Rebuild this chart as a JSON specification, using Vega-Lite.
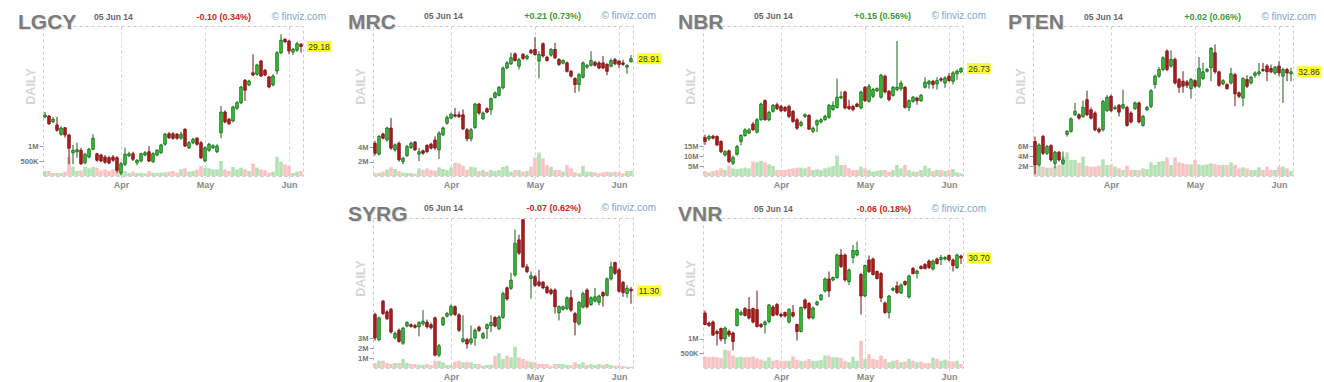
{
"$schema": "https://vega.github.io/schema/vega-lite/v6.json",
"background": "white",
"padding": {"left": 17, "top": 10, "right": 0, "bottom": 0},
"columns": 4,
"spacing": {"row": 42, "column": 70},
"bounds": "flush",
"config": {
  "font": "Liberation Sans",
  "view": {"stroke": "#c9c9c9", "strokeDash": [3, 3]},
  "axis": {"domain": false, "gridColor": "#d2d2d2", "gridDash": [3, 3], "gridWidth": 1, "labelFont": "Liberation Sans", "titleFont": "Liberation Sans"},
  "axisBottom": {"labelFontSize": 9, "labelFontWeight": "bold", "labelColor": "#8a8a8a", "ticks": true, "tickSize": 3, "tickColor": "#c9c9c9", "tickDash": [2, 2], "labelPadding": 1, "labelFlush": false},
  "axisRight": {"labelFontSize": 8, "labelColor": "#555555", "ticks": false, "labelPadding": 5},
  "axisLeft": {"labelFontSize": 7.5, "labelFontWeight": "bold", "labelColor": "#777777", "ticks": true, "tickSize": 4, "tickColor": "#9a9a9a", "labelPadding": 1, "titleFontSize": 12.5, "titleFontWeight": "bold", "titleColor": "#d6d6d6"}
},
"datasets": {
"LGCY": [
{"i":0,"o":26.36,"h":26.56,"l":26.31,"c":26.44,"v":167000},
{"i":1,"o":26.40,"h":26.44,"l":26.04,"c":26.09,"v":167000},
{"i":2,"o":26.17,"h":26.36,"l":26.12,"c":26.27,"v":100000},
{"i":3,"o":26.04,"h":26.36,"l":25.77,"c":25.83,"v":100000},
{"i":4,"o":25.67,"h":25.99,"l":25.61,"c":25.92,"v":100000},
{"i":5,"o":25.93,"h":25.96,"l":25.53,"c":25.64,"v":144000},
{"i":6,"o":25.64,"h":25.69,"l":24.47,"c":25.11,"v":644000},
{"i":7,"o":24.93,"h":25.24,"l":24.47,"c":25.03,"v":311000},
{"i":8,"o":24.97,"h":25.33,"l":24.73,"c":25.05,"v":167000},
{"i":9,"o":25.03,"h":25.13,"l":24.44,"c":24.49,"v":189000},
{"i":10,"o":24.53,"h":24.93,"l":24.47,"c":24.87,"v":300000},
{"i":11,"o":24.76,"h":25.13,"l":24.71,"c":25.07,"v":256000},
{"i":12,"o":25.07,"h":25.67,"l":25.03,"c":25.51,"v":300000},
{"i":13,"o":24.89,"h":24.93,"l":24.57,"c":24.63,"v":278000},
{"i":14,"o":24.84,"h":24.89,"l":24.55,"c":24.60,"v":189000},
{"i":15,"o":24.76,"h":24.84,"l":24.49,"c":24.55,"v":222000},
{"i":16,"o":24.73,"h":24.80,"l":24.47,"c":24.52,"v":167000},
{"i":17,"o":24.76,"h":24.84,"l":24.57,"c":24.63,"v":222000},
{"i":18,"o":24.73,"h":24.80,"l":24.13,"c":24.23,"v":300000},
{"i":19,"o":24.13,"h":24.57,"l":24.04,"c":24.49,"v":222000},
{"i":20,"o":24.47,"h":25.13,"l":24.40,"c":24.87,"v":167000},
{"i":21,"o":24.81,"h":24.97,"l":24.76,"c":24.89,"v":100000},
{"i":22,"o":24.89,"h":24.97,"l":24.60,"c":24.67,"v":144000},
{"i":23,"o":24.53,"h":24.68,"l":24.43,"c":24.63,"v":100000},
{"i":24,"o":24.60,"h":24.93,"l":24.55,"c":24.89,"v":111000},
{"i":25,"o":24.84,"h":25.00,"l":24.79,"c":24.93,"v":89000},
{"i":26,"o":24.97,"h":25.20,"l":24.55,"c":24.60,"v":167000},
{"i":27,"o":24.57,"h":24.95,"l":24.52,"c":24.89,"v":111000},
{"i":28,"o":24.84,"h":25.08,"l":24.79,"c":25.03,"v":100000},
{"i":29,"o":24.93,"h":25.29,"l":24.89,"c":25.24,"v":111000},
{"i":30,"o":25.27,"h":25.73,"l":25.21,"c":25.67,"v":122000},
{"i":31,"o":25.69,"h":25.76,"l":25.48,"c":25.53,"v":144000},
{"i":32,"o":25.69,"h":25.75,"l":25.45,"c":25.51,"v":167000},
{"i":33,"o":25.67,"h":25.72,"l":25.45,"c":25.51,"v":111000},
{"i":34,"o":25.51,"h":25.77,"l":25.45,"c":25.67,"v":222000},
{"i":35,"o":25.87,"h":25.91,"l":25.16,"c":25.20,"v":256000},
{"i":36,"o":25.13,"h":25.40,"l":25.08,"c":25.33,"v":144000},
{"i":37,"o":25.33,"h":25.53,"l":25.27,"c":25.47,"v":167000},
{"i":38,"o":25.51,"h":25.56,"l":25.21,"c":25.27,"v":211000},
{"i":39,"o":25.33,"h":25.40,"l":24.68,"c":24.73,"v":333000},
{"i":40,"o":24.60,"h":25.19,"l":24.55,"c":25.13,"v":278000},
{"i":41,"o":25.03,"h":25.33,"l":24.97,"c":25.27,"v":256000},
{"i":42,"o":25.13,"h":25.27,"l":25.08,"c":25.21,"v":222000},
{"i":43,"o":24.97,"h":25.27,"l":24.92,"c":25.20,"v":222000},
{"i":44,"o":25.73,"h":26.80,"l":25.51,"c":26.56,"v":500000},
{"i":45,"o":26.56,"h":26.63,"l":26.11,"c":26.16,"v":222000},
{"i":46,"o":26.27,"h":26.33,"l":26.04,"c":26.09,"v":167000},
{"i":47,"o":26.20,"h":26.81,"l":26.15,"c":26.76,"v":300000},
{"i":48,"o":26.71,"h":27.00,"l":26.65,"c":26.93,"v":222000},
{"i":49,"o":26.93,"h":27.61,"l":26.88,"c":27.56,"v":278000},
{"i":50,"o":27.83,"h":27.88,"l":27.00,"c":27.43,"v":222000},
{"i":51,"o":27.64,"h":27.85,"l":27.59,"c":27.80,"v":167000},
{"i":52,"o":28.13,"h":28.87,"l":27.99,"c":28.04,"v":411000},
{"i":53,"o":28.07,"h":28.49,"l":28.01,"c":28.44,"v":278000},
{"i":54,"o":28.60,"h":28.65,"l":27.95,"c":28.00,"v":222000},
{"i":55,"o":28.23,"h":28.28,"l":27.99,"c":28.04,"v":189000},
{"i":56,"o":27.96,"h":28.01,"l":27.51,"c":27.56,"v":111000},
{"i":57,"o":27.64,"h":28.07,"l":27.59,"c":28.00,"v":144000},
{"i":58,"o":28.20,"h":29.00,"l":28.07,"c":28.93,"v":644000},
{"i":59,"o":28.93,"h":29.67,"l":28.87,"c":29.43,"v":478000},
{"i":60,"o":29.47,"h":29.51,"l":29.32,"c":29.37,"v":389000},
{"i":61,"o":29.40,"h":29.45,"l":28.87,"c":29.00,"v":333000},
{"i":62,"o":28.96,"h":29.13,"l":28.84,"c":29.07,"v":100000},
{"i":63,"o":29.03,"h":29.37,"l":28.97,"c":29.29,"v":144000},
{"i":64,"o":29.27,"h":29.32,"l":28.93,"c":29.18,"v":167000}
],
"MRC": [
{"i":0,"o":26.09,"h":26.17,"l":25.68,"c":25.76,"v":370000},
{"i":1,"o":25.73,"h":26.37,"l":25.68,"c":26.32,"v":470000},
{"i":2,"o":26.40,"h":26.44,"l":26.22,"c":26.26,"v":600000},
{"i":3,"o":26.20,"h":26.64,"l":26.15,"c":26.60,"v":930000},
{"i":4,"o":26.60,"h":26.93,"l":25.87,"c":25.93,"v":1210000},
{"i":5,"o":25.87,"h":26.09,"l":25.81,"c":26.04,"v":980000},
{"i":6,"o":26.09,"h":26.15,"l":25.48,"c":25.54,"v":700000},
{"i":7,"o":25.48,"h":25.64,"l":25.39,"c":25.59,"v":510000},
{"i":8,"o":25.68,"h":26.04,"l":25.64,"c":25.98,"v":420000},
{"i":9,"o":25.95,"h":26.15,"l":25.90,"c":26.09,"v":420000},
{"i":10,"o":26.13,"h":26.17,"l":25.84,"c":25.87,"v":330000},
{"i":11,"o":25.73,"h":25.93,"l":25.50,"c":25.81,"v":1070000},
{"i":12,"o":25.84,"h":25.88,"l":25.71,"c":25.76,"v":840000},
{"i":13,"o":26.02,"h":26.06,"l":25.77,"c":25.81,"v":1070000},
{"i":14,"o":26.06,"h":26.11,"l":25.88,"c":25.93,"v":840000},
{"i":15,"o":26.20,"h":26.32,"l":25.88,"c":25.93,"v":740000},
{"i":16,"o":25.87,"h":26.49,"l":25.57,"c":26.43,"v":1210000},
{"i":17,"o":26.37,"h":26.65,"l":26.33,"c":26.60,"v":980000},
{"i":18,"o":26.76,"h":27.02,"l":26.71,"c":26.95,"v":840000},
{"i":19,"o":26.93,"h":27.11,"l":26.89,"c":27.06,"v":1210000},
{"i":20,"o":27.04,"h":27.27,"l":26.95,"c":26.99,"v":1860000},
{"i":21,"o":27.04,"h":27.15,"l":26.93,"c":26.98,"v":1770000},
{"i":22,"o":27.04,"h":27.22,"l":26.53,"c":26.57,"v":1440000},
{"i":23,"o":26.54,"h":26.60,"l":26.15,"c":26.24,"v":880000},
{"i":24,"o":26.24,"h":26.60,"l":26.15,"c":26.54,"v":1300000},
{"i":25,"o":26.62,"h":27.44,"l":26.57,"c":27.40,"v":1210000},
{"i":26,"o":27.40,"h":27.44,"l":27.04,"c":27.10,"v":700000},
{"i":27,"o":26.91,"h":27.15,"l":26.86,"c":27.10,"v":840000},
{"i":28,"o":27.24,"h":27.29,"l":27.09,"c":27.13,"v":600000},
{"i":29,"o":27.21,"h":27.62,"l":27.04,"c":27.58,"v":840000},
{"i":30,"o":27.62,"h":27.82,"l":27.58,"c":27.77,"v":700000},
{"i":31,"o":27.69,"h":28.00,"l":27.65,"c":27.96,"v":840000},
{"i":32,"o":27.94,"h":28.65,"l":27.89,"c":28.60,"v":1260000},
{"i":33,"o":28.60,"h":28.83,"l":28.56,"c":28.77,"v":1440000},
{"i":34,"o":28.74,"h":29.11,"l":28.70,"c":28.94,"v":600000},
{"i":35,"o":29.07,"h":29.12,"l":28.81,"c":28.85,"v":840000},
{"i":36,"o":28.66,"h":28.94,"l":28.55,"c":28.88,"v":840000},
{"i":37,"o":29.05,"h":29.10,"l":28.87,"c":28.92,"v":600000},
{"i":38,"o":28.92,"h":29.05,"l":28.87,"c":29.00,"v":700000},
{"i":39,"o":29.19,"h":29.23,"l":29.06,"c":29.11,"v":1300000},
{"i":40,"o":29.22,"h":29.63,"l":29.01,"c":29.05,"v":2600000},
{"i":41,"o":28.83,"h":29.16,"l":28.25,"c":29.05,"v":3260000},
{"i":42,"o":29.41,"h":29.45,"l":28.95,"c":29.00,"v":2470000},
{"i":43,"o":28.96,"h":29.01,"l":28.81,"c":28.85,"v":1530000},
{"i":44,"o":29.03,"h":29.26,"l":28.98,"c":29.22,"v":1300000},
{"i":45,"o":29.22,"h":29.44,"l":28.90,"c":28.94,"v":840000},
{"i":46,"o":28.88,"h":28.93,"l":28.67,"c":28.72,"v":840000},
{"i":47,"o":28.76,"h":28.89,"l":28.72,"c":28.85,"v":600000},
{"i":48,"o":28.77,"h":28.82,"l":28.45,"c":28.49,"v":1530000},
{"i":49,"o":28.49,"h":28.54,"l":28.28,"c":28.33,"v":1070000},
{"i":50,"o":28.25,"h":28.29,"l":27.77,"c":28.05,"v":510000},
{"i":51,"o":28.05,"h":28.43,"l":27.82,"c":28.38,"v":370000},
{"i":52,"o":28.29,"h":28.82,"l":28.25,"c":28.77,"v":1400000},
{"i":53,"o":28.63,"h":28.74,"l":28.58,"c":28.68,"v":600000},
{"i":54,"o":28.69,"h":29.16,"l":28.65,"c":28.85,"v":600000},
{"i":55,"o":28.79,"h":28.84,"l":28.65,"c":28.69,"v":510000},
{"i":56,"o":28.77,"h":28.83,"l":28.56,"c":28.60,"v":370000},
{"i":57,"o":28.77,"h":29.00,"l":28.56,"c":28.60,"v":510000},
{"i":58,"o":28.72,"h":28.76,"l":28.36,"c":28.49,"v":600000},
{"i":59,"o":28.66,"h":28.92,"l":28.62,"c":28.85,"v":510000},
{"i":60,"o":28.88,"h":28.94,"l":28.69,"c":28.74,"v":600000},
{"i":61,"o":28.83,"h":28.87,"l":28.60,"c":28.72,"v":510000},
{"i":62,"o":28.77,"h":28.87,"l":28.67,"c":28.72,"v":370000},
{"i":63,"o":28.63,"h":28.73,"l":28.41,"c":28.68,"v":700000},
{"i":64,"o":28.81,"h":29.03,"l":28.78,"c":28.91,"v":700000}
],
"NBR": [
{"i":0,"o":23.05,"h":23.20,"l":22.66,"c":22.84,"v":2540000},
{"i":1,"o":22.98,"h":23.20,"l":22.88,"c":23.11,"v":1860000},
{"i":2,"o":23.12,"h":23.20,"l":22.95,"c":23.02,"v":2540000},
{"i":3,"o":23.11,"h":23.16,"l":22.59,"c":22.66,"v":3050000},
{"i":4,"o":22.84,"h":22.91,"l":22.21,"c":22.30,"v":3900000},
{"i":5,"o":22.12,"h":22.38,"l":22.04,"c":22.30,"v":3050000},
{"i":6,"o":22.34,"h":22.41,"l":21.68,"c":21.77,"v":5250000},
{"i":7,"o":21.68,"h":22.09,"l":21.59,"c":21.98,"v":3900000},
{"i":8,"o":22.16,"h":22.66,"l":22.09,"c":22.57,"v":3560000},
{"i":9,"o":22.84,"h":23.23,"l":22.63,"c":23.16,"v":3900000},
{"i":10,"o":23.16,"h":23.55,"l":23.09,"c":23.46,"v":4240000},
{"i":11,"o":23.29,"h":23.55,"l":23.23,"c":23.46,"v":3900000},
{"i":12,"o":23.77,"h":23.88,"l":23.41,"c":23.46,"v":7290000},
{"i":13,"o":23.34,"h":24.09,"l":23.27,"c":24.00,"v":6950000},
{"i":14,"o":24.00,"h":24.91,"l":23.95,"c":24.84,"v":7630000},
{"i":15,"o":25.02,"h":25.09,"l":23.95,"c":24.00,"v":6950000},
{"i":16,"o":24.00,"h":24.48,"l":23.91,"c":24.39,"v":5930000},
{"i":17,"o":24.45,"h":24.84,"l":24.38,"c":24.77,"v":5080000},
{"i":18,"o":24.80,"h":24.91,"l":24.52,"c":24.59,"v":3050000},
{"i":19,"o":24.71,"h":24.79,"l":24.41,"c":24.48,"v":3050000},
{"i":20,"o":24.66,"h":24.73,"l":24.41,"c":24.48,"v":3050000},
{"i":21,"o":24.71,"h":24.80,"l":24.09,"c":24.18,"v":3560000},
{"i":22,"o":24.45,"h":24.52,"l":23.84,"c":23.91,"v":3900000},
{"i":23,"o":24.00,"h":24.09,"l":23.46,"c":23.55,"v":4240000},
{"i":24,"o":23.70,"h":23.95,"l":23.63,"c":23.86,"v":4240000},
{"i":25,"o":24.18,"h":24.34,"l":24.09,"c":24.27,"v":3900000},
{"i":26,"o":24.23,"h":24.30,"l":23.45,"c":23.50,"v":4750000},
{"i":27,"o":23.38,"h":23.63,"l":23.29,"c":23.55,"v":3050000},
{"i":28,"o":23.73,"h":24.02,"l":23.34,"c":23.95,"v":3390000},
{"i":29,"o":23.88,"h":24.09,"l":23.80,"c":24.00,"v":3050000},
{"i":30,"o":24.00,"h":24.27,"l":23.95,"c":24.18,"v":3900000},
{"i":31,"o":24.13,"h":24.84,"l":24.05,"c":24.77,"v":4410000},
{"i":32,"o":24.54,"h":24.98,"l":24.48,"c":24.77,"v":5080000},
{"i":33,"o":24.66,"h":26.20,"l":24.59,"c":25.20,"v":10340000},
{"i":34,"o":25.16,"h":25.52,"l":25.09,"c":25.23,"v":5590000},
{"i":35,"o":25.48,"h":25.55,"l":24.55,"c":24.63,"v":5590000},
{"i":36,"o":24.71,"h":25.07,"l":24.52,"c":24.59,"v":3900000},
{"i":37,"o":24.71,"h":24.80,"l":24.45,"c":24.54,"v":3050000},
{"i":38,"o":24.84,"h":24.91,"l":24.66,"c":24.71,"v":3050000},
{"i":39,"o":24.63,"h":25.55,"l":24.55,"c":25.48,"v":4750000},
{"i":40,"o":25.73,"h":25.80,"l":24.95,"c":25.02,"v":3900000},
{"i":41,"o":24.98,"h":25.91,"l":24.91,"c":25.79,"v":3050000},
{"i":42,"o":25.25,"h":25.70,"l":25.16,"c":25.61,"v":2200000},
{"i":43,"o":25.55,"h":25.73,"l":25.48,"c":25.66,"v":2540000},
{"i":44,"o":25.20,"h":26.45,"l":25.13,"c":26.38,"v":3050000},
{"i":45,"o":26.32,"h":26.41,"l":25.41,"c":25.48,"v":3050000},
{"i":46,"o":25.52,"h":25.59,"l":24.98,"c":25.07,"v":2200000},
{"i":47,"o":25.30,"h":25.80,"l":25.23,"c":25.73,"v":3050000},
{"i":48,"o":25.61,"h":28.20,"l":25.52,"c":25.73,"v":5590000},
{"i":49,"o":25.66,"h":26.09,"l":25.55,"c":25.96,"v":3900000},
{"i":50,"o":25.73,"h":25.80,"l":24.59,"c":24.66,"v":5590000},
{"i":51,"o":24.66,"h":25.09,"l":24.45,"c":25.02,"v":3050000},
{"i":52,"o":24.98,"h":25.27,"l":24.91,"c":25.20,"v":2200000},
{"i":53,"o":25.16,"h":25.23,"l":24.80,"c":25.02,"v":2200000},
{"i":54,"o":25.02,"h":25.38,"l":24.95,"c":25.30,"v":3050000},
{"i":55,"o":25.73,"h":26.27,"l":25.66,"c":26.00,"v":5250000},
{"i":56,"o":25.91,"h":26.13,"l":25.66,"c":26.05,"v":3900000},
{"i":57,"o":26.05,"h":26.13,"l":25.66,"c":25.88,"v":2540000},
{"i":58,"o":25.91,"h":26.27,"l":25.61,"c":26.09,"v":3050000},
{"i":59,"o":26.18,"h":26.27,"l":26.02,"c":26.11,"v":3050000},
{"i":60,"o":25.96,"h":26.32,"l":25.70,"c":26.23,"v":2540000},
{"i":61,"o":26.32,"h":26.50,"l":26.02,"c":26.09,"v":3050000},
{"i":62,"o":26.05,"h":26.59,"l":25.88,"c":26.50,"v":3560000},
{"i":63,"o":26.45,"h":26.68,"l":26.14,"c":26.59,"v":1860000},
{"i":64,"o":26.55,"h":26.80,"l":26.48,"c":26.73,"v":1360000}
],
"PTEN": [
{"i":0,"o":29.61,"h":29.84,"l":28.08,"c":28.52,"v":2200000},
{"i":1,"o":28.52,"h":29.53,"l":28.45,"c":29.45,"v":2070000},
{"i":2,"o":29.84,"h":29.92,"l":28.98,"c":29.06,"v":1870000},
{"i":3,"o":29.06,"h":29.45,"l":28.98,"c":29.38,"v":1670000},
{"i":4,"o":29.42,"h":29.48,"l":28.67,"c":28.75,"v":1670000},
{"i":5,"o":28.59,"h":29.17,"l":28.36,"c":29.11,"v":1870000},
{"i":6,"o":29.11,"h":29.17,"l":28.67,"c":28.75,"v":2200000},
{"i":7,"o":28.59,"h":29.14,"l":28.52,"c":28.75,"v":3870000},
{"i":8,"o":29.95,"h":30.14,"l":29.84,"c":30.08,"v":4730000},
{"i":9,"o":30.08,"h":30.73,"l":30.02,"c":30.67,"v":3200000},
{"i":10,"o":30.86,"h":31.41,"l":30.80,"c":31.02,"v":3200000},
{"i":11,"o":30.86,"h":30.92,"l":30.63,"c":30.70,"v":2670000},
{"i":12,"o":30.78,"h":31.52,"l":30.70,"c":31.20,"v":3870000},
{"i":13,"o":31.56,"h":31.98,"l":30.80,"c":30.86,"v":2070000},
{"i":14,"o":31.09,"h":31.20,"l":30.63,"c":30.70,"v":1870000},
{"i":15,"o":30.94,"h":31.02,"l":30.08,"c":30.16,"v":1870000},
{"i":16,"o":30.19,"h":30.27,"l":29.98,"c":30.08,"v":2070000},
{"i":17,"o":30.16,"h":31.55,"l":30.08,"c":31.48,"v":3330000},
{"i":18,"o":31.05,"h":31.77,"l":30.98,"c":31.67,"v":2200000},
{"i":19,"o":31.72,"h":31.80,"l":30.98,"c":31.05,"v":2330000},
{"i":20,"o":31.14,"h":31.30,"l":31.08,"c":31.20,"v":1870000},
{"i":21,"o":31.30,"h":31.36,"l":30.78,"c":30.98,"v":1530000},
{"i":22,"o":31.17,"h":32.03,"l":31.11,"c":31.33,"v":1200000},
{"i":23,"o":31.20,"h":31.27,"l":30.30,"c":30.36,"v":2070000},
{"i":24,"o":30.94,"h":31.02,"l":30.45,"c":30.52,"v":1200000},
{"i":25,"o":31.14,"h":31.48,"l":31.08,"c":31.41,"v":1200000},
{"i":26,"o":31.41,"h":31.48,"l":30.45,"c":30.52,"v":1200000},
{"i":27,"o":30.36,"h":30.86,"l":30.30,"c":30.78,"v":1530000},
{"i":28,"o":31.09,"h":31.27,"l":31.02,"c":31.20,"v":1400000},
{"i":29,"o":31.25,"h":32.05,"l":31.17,"c":31.98,"v":2730000},
{"i":30,"o":32.27,"h":32.73,"l":32.08,"c":32.66,"v":2200000},
{"i":31,"o":32.66,"h":33.08,"l":32.58,"c":32.97,"v":2870000},
{"i":32,"o":32.97,"h":33.59,"l":32.89,"c":33.52,"v":3000000},
{"i":33,"o":33.83,"h":33.91,"l":32.89,"c":32.97,"v":3730000},
{"i":34,"o":33.13,"h":33.86,"l":33.05,"c":33.44,"v":2200000},
{"i":35,"o":33.44,"h":33.52,"l":32.27,"c":32.34,"v":3730000},
{"i":36,"o":32.50,"h":32.58,"l":31.88,"c":32.14,"v":2730000},
{"i":37,"o":32.42,"h":32.89,"l":31.88,"c":32.19,"v":2530000},
{"i":38,"o":32.39,"h":32.48,"l":32.11,"c":32.23,"v":2330000},
{"i":39,"o":32.08,"h":32.58,"l":31.61,"c":32.50,"v":2330000},
{"i":40,"o":32.45,"h":32.52,"l":32.11,"c":32.19,"v":3200000},
{"i":41,"o":32.19,"h":33.55,"l":32.11,"c":33.02,"v":2330000},
{"i":42,"o":32.55,"h":33.28,"l":32.48,"c":32.86,"v":2200000},
{"i":43,"o":32.89,"h":33.05,"l":32.83,"c":32.97,"v":2330000},
{"i":44,"o":33.05,"h":34.02,"l":32.42,"c":33.95,"v":2530000},
{"i":45,"o":33.75,"h":34.14,"l":32.77,"c":32.86,"v":2400000},
{"i":46,"o":32.86,"h":32.92,"l":32.17,"c":32.23,"v":2200000},
{"i":47,"o":32.30,"h":32.52,"l":32.23,"c":32.45,"v":2200000},
{"i":48,"o":32.27,"h":32.33,"l":32.02,"c":32.08,"v":2200000},
{"i":49,"o":32.34,"h":33.05,"l":32.27,"c":32.77,"v":2730000},
{"i":50,"o":32.73,"h":32.81,"l":31.25,"c":31.83,"v":2200000},
{"i":51,"o":31.88,"h":31.95,"l":31.64,"c":31.72,"v":1530000},
{"i":52,"o":31.64,"h":32.61,"l":31.25,"c":32.55,"v":1730000},
{"i":53,"o":32.50,"h":32.70,"l":32.11,"c":32.19,"v":1530000},
{"i":54,"o":32.34,"h":32.67,"l":32.27,"c":32.61,"v":1200000},
{"i":55,"o":32.70,"h":32.89,"l":32.58,"c":32.81,"v":1200000},
{"i":56,"o":32.77,"h":33.27,"l":32.66,"c":32.86,"v":1730000},
{"i":57,"o":32.97,"h":33.28,"l":32.86,"c":32.92,"v":1200000},
{"i":58,"o":33.13,"h":33.23,"l":32.42,"c":32.86,"v":1870000},
{"i":59,"o":33.02,"h":33.20,"l":32.80,"c":32.86,"v":1200000},
{"i":60,"o":32.81,"h":33.14,"l":32.73,"c":33.08,"v":1200000},
{"i":61,"o":33.13,"h":33.36,"l":32.66,"c":32.81,"v":1870000},
{"i":62,"o":32.66,"h":33.05,"l":31.41,"c":32.97,"v":1870000},
{"i":63,"o":32.97,"h":33.05,"l":32.42,"c":32.81,"v":1530000},
{"i":64,"o":32.77,"h":33.05,"l":32.42,"c":32.86,"v":1000000}
],
"SYRG": [
{"i":0,"o":10.75,"h":10.79,"l":10.14,"c":10.20,"v":500000},
{"i":1,"o":10.16,"h":10.70,"l":10.12,"c":10.67,"v":730000},
{"i":2,"o":11.06,"h":11.09,"l":10.74,"c":10.77,"v":730000},
{"i":3,"o":10.81,"h":10.85,"l":10.62,"c":10.65,"v":500000},
{"i":4,"o":10.87,"h":10.90,"l":10.30,"c":10.34,"v":400000},
{"i":5,"o":10.20,"h":10.35,"l":10.17,"c":10.31,"v":500000},
{"i":6,"o":10.38,"h":10.42,"l":10.09,"c":10.12,"v":500000},
{"i":7,"o":10.08,"h":10.46,"l":10.04,"c":10.43,"v":900000},
{"i":8,"o":10.48,"h":10.59,"l":10.45,"c":10.56,"v":500000},
{"i":9,"o":10.51,"h":10.54,"l":10.44,"c":10.47,"v":400000},
{"i":10,"o":10.49,"h":10.53,"l":10.42,"c":10.45,"v":400000},
{"i":11,"o":10.46,"h":10.59,"l":10.24,"c":10.56,"v":330000},
{"i":12,"o":10.53,"h":10.85,"l":10.49,"c":10.59,"v":300000},
{"i":13,"o":10.57,"h":10.63,"l":10.42,"c":10.46,"v":400000},
{"i":14,"o":10.51,"h":10.56,"l":10.40,"c":10.44,"v":300000},
{"i":15,"o":10.67,"h":10.70,"l":9.77,"c":9.80,"v":730000},
{"i":16,"o":9.80,"h":10.06,"l":9.75,"c":10.02,"v":730000},
{"i":17,"o":10.51,"h":10.70,"l":10.48,"c":10.67,"v":570000},
{"i":18,"o":10.71,"h":10.81,"l":10.68,"c":10.77,"v":300000},
{"i":19,"o":10.75,"h":10.98,"l":10.71,"c":10.94,"v":300000},
{"i":20,"o":10.93,"h":10.96,"l":10.71,"c":10.75,"v":630000},
{"i":21,"o":10.74,"h":10.78,"l":10.34,"c":10.38,"v":730000},
{"i":22,"o":10.12,"h":10.73,"l":10.09,"c":10.18,"v":570000},
{"i":23,"o":10.16,"h":10.20,"l":9.95,"c":10.06,"v":630000},
{"i":24,"o":10.09,"h":10.49,"l":10.04,"c":10.18,"v":570000},
{"i":25,"o":10.20,"h":10.42,"l":10.02,"c":10.38,"v":400000},
{"i":26,"o":10.45,"h":10.49,"l":10.34,"c":10.38,"v":400000},
{"i":27,"o":10.20,"h":10.34,"l":10.18,"c":10.30,"v":230000},
{"i":28,"o":10.42,"h":10.54,"l":10.18,"c":10.51,"v":300000},
{"i":29,"o":10.49,"h":10.73,"l":10.34,"c":10.56,"v":330000},
{"i":30,"o":10.68,"h":10.71,"l":10.45,"c":10.48,"v":1230000},
{"i":31,"o":10.42,"h":10.73,"l":10.38,"c":10.69,"v":1470000},
{"i":32,"o":10.68,"h":11.28,"l":10.65,"c":11.24,"v":900000},
{"i":33,"o":11.37,"h":11.40,"l":11.07,"c":11.11,"v":1230000},
{"i":34,"o":11.36,"h":11.72,"l":11.32,"c":11.55,"v":1070000},
{"i":35,"o":11.67,"h":12.73,"l":11.63,"c":12.41,"v":2130000},
{"i":36,"o":12.49,"h":12.61,"l":12.14,"c":12.18,"v":1070000},
{"i":37,"o":12.96,"h":12.97,"l":11.83,"c":11.86,"v":900000},
{"i":38,"o":11.86,"h":11.92,"l":11.71,"c":11.75,"v":730000},
{"i":39,"o":11.59,"h":11.75,"l":11.12,"c":11.65,"v":630000},
{"i":40,"o":11.63,"h":11.67,"l":11.39,"c":11.43,"v":570000},
{"i":41,"o":11.51,"h":11.79,"l":11.39,"c":11.43,"v":400000},
{"i":42,"o":11.50,"h":11.53,"l":11.34,"c":11.37,"v":400000},
{"i":43,"o":11.39,"h":11.43,"l":11.23,"c":11.26,"v":400000},
{"i":44,"o":11.32,"h":11.36,"l":11.20,"c":11.24,"v":230000},
{"i":45,"o":11.32,"h":11.36,"l":10.77,"c":10.93,"v":400000},
{"i":46,"o":10.79,"h":10.96,"l":10.61,"c":10.93,"v":400000},
{"i":47,"o":10.87,"h":10.96,"l":10.84,"c":10.93,"v":400000},
{"i":48,"o":10.89,"h":11.17,"l":10.85,"c":11.14,"v":330000},
{"i":49,"o":11.14,"h":11.32,"l":10.81,"c":10.85,"v":300000},
{"i":50,"o":10.77,"h":10.81,"l":10.26,"c":10.57,"v":570000},
{"i":51,"o":10.53,"h":11.06,"l":10.49,"c":11.03,"v":400000},
{"i":52,"o":10.92,"h":11.28,"l":10.89,"c":11.24,"v":570000},
{"i":53,"o":11.32,"h":11.36,"l":10.89,"c":10.93,"v":300000},
{"i":54,"o":10.98,"h":11.17,"l":10.95,"c":11.14,"v":400000},
{"i":55,"o":11.06,"h":11.37,"l":11.03,"c":11.16,"v":300000},
{"i":56,"o":11.03,"h":11.21,"l":10.96,"c":11.18,"v":400000},
{"i":57,"o":11.26,"h":11.29,"l":10.93,"c":11.18,"v":300000},
{"i":58,"o":11.20,"h":11.61,"l":11.17,"c":11.58,"v":400000},
{"i":59,"o":11.58,"h":11.98,"l":11.54,"c":11.86,"v":300000},
{"i":60,"o":11.96,"h":11.98,"l":11.67,"c":11.71,"v":230000},
{"i":61,"o":11.79,"h":11.83,"l":11.26,"c":11.29,"v":230000},
{"i":62,"o":11.50,"h":11.53,"l":11.16,"c":11.26,"v":170000},
{"i":63,"o":11.24,"h":11.43,"l":11.14,"c":11.36,"v":130000},
{"i":64,"o":11.34,"h":11.39,"l":11.00,"c":11.30,"v":100000}
],
"VNR": [
{"i":0,"o":29.60,"h":29.65,"l":29.35,"c":29.37,"v":400000},
{"i":1,"o":29.40,"h":29.43,"l":29.32,"c":29.35,"v":370000},
{"i":2,"o":29.42,"h":29.45,"l":29.14,"c":29.16,"v":390000},
{"i":3,"o":29.23,"h":29.27,"l":28.95,"c":29.19,"v":370000},
{"i":4,"o":29.29,"h":29.31,"l":29.03,"c":29.08,"v":340000},
{"i":5,"o":29.08,"h":29.33,"l":28.98,"c":29.30,"v":630000},
{"i":6,"o":29.23,"h":29.27,"l":29.12,"c":29.16,"v":600000},
{"i":7,"o":29.20,"h":29.23,"l":28.85,"c":29.03,"v":430000},
{"i":8,"o":29.35,"h":29.70,"l":29.33,"c":29.67,"v":370000},
{"i":9,"o":29.57,"h":29.65,"l":29.54,"c":29.61,"v":390000},
{"i":10,"o":29.69,"h":29.72,"l":29.53,"c":29.55,"v":370000},
{"i":11,"o":29.67,"h":29.92,"l":29.47,"c":29.50,"v":370000},
{"i":12,"o":29.69,"h":29.71,"l":29.39,"c":29.42,"v":400000},
{"i":13,"o":29.67,"h":30.05,"l":29.31,"c":29.33,"v":330000},
{"i":14,"o":29.37,"h":29.40,"l":29.30,"c":29.33,"v":290000},
{"i":15,"o":29.37,"h":29.45,"l":29.19,"c":29.42,"v":250000},
{"i":16,"o":29.43,"h":29.78,"l":29.39,"c":29.76,"v":370000},
{"i":17,"o":29.72,"h":29.76,"l":29.53,"c":29.55,"v":250000},
{"i":18,"o":29.77,"h":29.80,"l":29.54,"c":29.57,"v":280000},
{"i":19,"o":29.57,"h":29.61,"l":29.51,"c":29.54,"v":250000},
{"i":20,"o":29.61,"h":29.63,"l":29.51,"c":29.54,"v":250000},
{"i":21,"o":29.42,"h":29.70,"l":29.39,"c":29.67,"v":250000},
{"i":22,"o":29.61,"h":29.76,"l":29.51,"c":29.54,"v":400000},
{"i":23,"o":29.37,"h":29.39,"l":29.05,"c":29.23,"v":280000},
{"i":24,"o":29.23,"h":29.73,"l":29.21,"c":29.71,"v":250000},
{"i":25,"o":29.86,"h":29.89,"l":29.67,"c":29.70,"v":250000},
{"i":26,"o":29.79,"h":29.82,"l":29.47,"c":29.50,"v":310000},
{"i":27,"o":29.50,"h":29.73,"l":29.47,"c":29.70,"v":250000},
{"i":28,"o":29.77,"h":29.85,"l":29.74,"c":29.82,"v":250000},
{"i":29,"o":29.87,"h":29.98,"l":29.84,"c":29.96,"v":280000},
{"i":30,"o":30.04,"h":30.31,"l":30.01,"c":30.28,"v":430000},
{"i":31,"o":30.28,"h":30.43,"l":29.92,"c":30.04,"v":430000},
{"i":32,"o":30.26,"h":30.33,"l":30.23,"c":30.31,"v":370000},
{"i":33,"o":30.31,"h":30.79,"l":30.28,"c":30.76,"v":370000},
{"i":34,"o":30.76,"h":30.88,"l":30.50,"c":30.53,"v":340000},
{"i":35,"o":30.76,"h":30.79,"l":30.23,"c":30.26,"v":250000},
{"i":36,"o":30.23,"h":30.49,"l":30.16,"c":30.46,"v":200000},
{"i":37,"o":30.71,"h":30.96,"l":30.59,"c":30.85,"v":390000},
{"i":38,"o":30.76,"h":31.03,"l":30.73,"c":30.85,"v":250000},
{"i":39,"o":30.37,"h":30.40,"l":29.57,"c":29.94,"v":940000},
{"i":40,"o":29.94,"h":30.57,"l":29.92,"c":30.55,"v":310000},
{"i":41,"o":30.66,"h":30.75,"l":30.40,"c":30.43,"v":480000},
{"i":42,"o":30.68,"h":30.71,"l":30.35,"c":30.37,"v":310000},
{"i":43,"o":30.43,"h":30.45,"l":30.27,"c":30.29,"v":280000},
{"i":44,"o":30.39,"h":30.42,"l":29.82,"c":29.90,"v":430000},
{"i":45,"o":29.80,"h":29.83,"l":29.58,"c":29.61,"v":310000},
{"i":46,"o":29.61,"h":29.96,"l":29.49,"c":29.94,"v":200000},
{"i":47,"o":30.06,"h":30.12,"l":30.03,"c":30.09,"v":250000},
{"i":48,"o":30.14,"h":30.23,"l":29.98,"c":30.01,"v":280000},
{"i":49,"o":30.00,"h":30.19,"l":29.98,"c":30.16,"v":200000},
{"i":50,"o":30.23,"h":30.25,"l":30.14,"c":30.17,"v":220000},
{"i":51,"o":29.92,"h":30.37,"l":29.89,"c":30.34,"v":310000},
{"i":52,"o":30.49,"h":30.52,"l":30.37,"c":30.39,"v":250000},
{"i":53,"o":30.39,"h":30.47,"l":30.29,"c":30.44,"v":200000},
{"i":54,"o":30.53,"h":30.56,"l":30.47,"c":30.49,"v":220000},
{"i":55,"o":30.57,"h":30.60,"l":30.47,"c":30.49,"v":170000},
{"i":56,"o":30.64,"h":30.67,"l":30.48,"c":30.51,"v":170000},
{"i":57,"o":30.48,"h":30.67,"l":30.45,"c":30.64,"v":360000},
{"i":58,"o":30.68,"h":30.71,"l":30.57,"c":30.59,"v":310000},
{"i":59,"o":30.67,"h":30.76,"l":30.56,"c":30.71,"v":250000},
{"i":60,"o":30.68,"h":30.74,"l":30.65,"c":30.71,"v":290000},
{"i":61,"o":30.75,"h":30.77,"l":30.63,"c":30.66,"v":250000},
{"i":62,"o":30.66,"h":30.69,"l":30.43,"c":30.55,"v":220000},
{"i":63,"o":30.51,"h":30.79,"l":30.48,"c":30.76,"v":250000},
{"i":64,"o":30.74,"h":30.77,"l":30.58,"c":30.70,"v":140000}
]
},
"concat": [
{"width": 260, "height": 150, "data": {"name": "LGCY"},
 "encoding": {"x": {"field": "i", "type": "quantitative", "scale": {"domain": [-0.5, 64.5], "nice": false, "zero": false, "padding": 0}, "axis": {"values": [19, 40, 61], "labelExpr": "datum.value == 19 ? 'Apr' : datum.value == 40 ? 'May' : 'Jun'", "title": null, "grid": true}}},
 "layer": [
  {"mark": {"type": "bar", "orient": "vertical", "size": 3.6},
   "encoding": {"y": {"field": "v", "type": "quantitative", "scale": {"domain": [0, 5000000], "nice": false}, "axis": {"orient": "left", "values": [500000, 1000000], "labelExpr": "datum.value >= 1000000 ? format(datum.value / 1000000, 'd') + 'M' : format(datum.value / 1000, 'd') + 'K'", "grid": false, "title": "DAILY", "titleX": -13, "titleY": 60, "titleAngle": -90, "titleAlign": "center", "titleBaseline": "middle"}},
    "color": {"condition": {"test": "datum.c >= datum.o", "value": "#b4e2b4"}, "value": "#f8c3c3"}}},
  {"layer": [
   {"mark": {"type": "rule", "strokeWidth": 1},
    "encoding": {"y": {"field": "l", "type": "quantitative", "scale": {"domain": [24, 30], "nice": false, "zero": false}, "axis": {"orient": "right", "values": [24, 25, 26, 27, 28, 29, 30], "format": ".2f", "title": null, "grid": true}}, "y2": {"field": "h"},
     "color": {"condition": {"test": "datum.c >= datum.o", "value": "#17621b"}, "value": "#731313"}}},
   {"mark": {"type": "bar", "orient": "vertical", "size": 2.6, "strokeWidth": 0.8},
    "encoding": {"y": {"field": "o", "type": "quantitative", "axis": null}, "y2": {"field": "c"},
     "fill": {"condition": {"test": "datum.c >= datum.o", "value": "#35c435"}, "value": "#b41c1c"},
     "stroke": {"condition": {"test": "datum.c >= datum.o", "value": "#17621b"}, "value": "#731313"}}},
   {"transform": [{"filter": "datum.i == 64"}], "mark": {"type": "point", "shape": "M-1,-0.46H1V0.46H-1Z", "size": 576, "filled": true, "color": "#ffff2e", "opacity": 1},
    "encoding": {"x": {"datum": 68.5}, "y": {"field": "c", "type": "quantitative", "axis": null}}},
   {"transform": [{"filter": "datum.i == 64"}], "mark": {"type": "text", "fontSize": 8.5, "color": "#333333"},
    "encoding": {"x": {"datum": 68.5}, "y": {"field": "c", "type": "quantitative", "axis": null}, "text": {"field": "c", "type": "quantitative", "format": ".2f"}}},
   {"transform": [{"filter": "datum.i == 64"}], "mark": {"type": "text", "align": "left", "baseline": "alphabetic", "fontSize": 21, "fontWeight": "bold", "color": "#dedede", "dx": 1, "dy": 1}, "encoding": {"x": {"datum": -6.75}, "y": {"datum": 29.88, "type": "quantitative", "axis": null}, "text": {"value": "LGCY"}}},
   {"transform": [{"filter": "datum.i == 64"}], "mark": {"type": "text", "align": "left", "baseline": "alphabetic", "fontSize": 21, "fontWeight": "bold", "color": "#7c7c7c"}, "encoding": {"x": {"datum": -6.75}, "y": {"datum": 29.88, "type": "quantitative", "axis": null}, "text": {"value": "LGCY"}}},
   {"transform": [{"filter": "datum.i == 64"}], "mark": {"type": "text", "align": "left", "baseline": "middle", "fontSize": 8.5, "fontWeight": "bold", "color": "#666666"}, "encoding": {"x": {"datum": 12.25}, "y": {"datum": 30.38, "type": "quantitative", "axis": null}, "text": {"value": "05 Jun 14"}}},
   {"transform": [{"filter": "datum.i == 64"}], "mark": {"type": "text", "align": "right", "baseline": "middle", "fontSize": 9, "fontWeight": "bold", "color": "#c62828"}, "encoding": {"x": {"datum": 51.5}, "y": {"datum": 30.38, "type": "quantitative", "axis": null}, "text": {"value": "-0.10 (0.34%)"}}},
   {"transform": [{"filter": "datum.i == 64"}], "mark": {"type": "text", "align": "right", "baseline": "middle", "fontSize": 10, "color": "#7fa6c8"}, "encoding": {"x": {"datum": 70.25}, "y": {"datum": 30.38, "type": "quantitative", "axis": null}, "text": {"value": "© finviz.com"}}}
  ]}
 ],
 "resolve": {"scale": {"y": "independent"}}
},
{"width": 260, "height": 150, "data": {"name": "MRC"},
 "encoding": {"x": {"field": "i", "type": "quantitative", "scale": {"domain": [-0.5, 64.5], "nice": false, "zero": false, "padding": 0}, "axis": {"values": [19, 40, 61], "labelExpr": "datum.value == 19 ? 'Apr' : datum.value == 40 ? 'May' : 'Jun'", "title": null, "grid": true}}},
 "layer": [
  {"mark": {"type": "bar", "orient": "vertical", "size": 3.6},
   "encoding": {"y": {"field": "v", "type": "quantitative", "scale": {"domain": [0, 21000000], "nice": false}, "axis": {"orient": "left", "values": [2000000, 4000000], "labelExpr": "datum.value >= 1000000 ? format(datum.value / 1000000, 'd') + 'M' : format(datum.value / 1000, 'd') + 'K'", "grid": false, "title": "DAILY", "titleX": -13, "titleY": 60, "titleAngle": -90, "titleAlign": "center", "titleBaseline": "middle"}},
    "color": {"condition": {"test": "datum.c >= datum.o", "value": "#b4e2b4"}, "value": "#f8c3c3"}}},
  {"layer": [
   {"mark": {"type": "rule", "strokeWidth": 1},
    "encoding": {"y": {"field": "l", "type": "quantitative", "scale": {"domain": [25, 30], "nice": false, "zero": false}, "axis": {"orient": "right", "values": [25, 26, 27, 28, 29, 30], "format": ".2f", "title": null, "grid": true}}, "y2": {"field": "h"},
     "color": {"condition": {"test": "datum.c >= datum.o", "value": "#17621b"}, "value": "#731313"}}},
   {"mark": {"type": "bar", "orient": "vertical", "size": 2.6, "strokeWidth": 0.8},
    "encoding": {"y": {"field": "o", "type": "quantitative", "axis": null}, "y2": {"field": "c"},
     "fill": {"condition": {"test": "datum.c >= datum.o", "value": "#35c435"}, "value": "#b41c1c"},
     "stroke": {"condition": {"test": "datum.c >= datum.o", "value": "#17621b"}, "value": "#731313"}}},
   {"transform": [{"filter": "datum.i == 64"}], "mark": {"type": "point", "shape": "M-1,-0.46H1V0.46H-1Z", "size": 576, "filled": true, "color": "#ffff2e", "opacity": 1},
    "encoding": {"x": {"datum": 68.5}, "y": {"field": "c", "type": "quantitative", "axis": null}}},
   {"transform": [{"filter": "datum.i == 64"}], "mark": {"type": "text", "fontSize": 8.5, "color": "#333333"},
    "encoding": {"x": {"datum": 68.5}, "y": {"field": "c", "type": "quantitative", "axis": null}, "text": {"field": "c", "type": "quantitative", "format": ".2f"}}},
   {"transform": [{"filter": "datum.i == 64"}], "mark": {"type": "text", "align": "left", "baseline": "alphabetic", "fontSize": 21, "fontWeight": "bold", "color": "#dedede", "dx": 1, "dy": 1}, "encoding": {"x": {"datum": -6.75}, "y": {"datum": 29.9, "type": "quantitative", "axis": null}, "text": {"value": "MRC"}}},
   {"transform": [{"filter": "datum.i == 64"}], "mark": {"type": "text", "align": "left", "baseline": "alphabetic", "fontSize": 21, "fontWeight": "bold", "color": "#7c7c7c"}, "encoding": {"x": {"datum": -6.75}, "y": {"datum": 29.9, "type": "quantitative", "axis": null}, "text": {"value": "MRC"}}},
   {"transform": [{"filter": "datum.i == 64"}], "mark": {"type": "text", "align": "left", "baseline": "middle", "fontSize": 8.5, "fontWeight": "bold", "color": "#666666"}, "encoding": {"x": {"datum": 12.25}, "y": {"datum": 30.317, "type": "quantitative", "axis": null}, "text": {"value": "05 Jun 14"}}},
   {"transform": [{"filter": "datum.i == 64"}], "mark": {"type": "text", "align": "right", "baseline": "middle", "fontSize": 9, "fontWeight": "bold", "color": "#3a9a3a"}, "encoding": {"x": {"datum": 51.5}, "y": {"datum": 30.317, "type": "quantitative", "axis": null}, "text": {"value": "+0.21 (0.73%)"}}},
   {"transform": [{"filter": "datum.i == 64"}], "mark": {"type": "text", "align": "right", "baseline": "middle", "fontSize": 10, "color": "#7fa6c8"}, "encoding": {"x": {"datum": 70.25}, "y": {"datum": 30.317, "type": "quantitative", "axis": null}, "text": {"value": "© finviz.com"}}}
  ]}
 ],
 "resolve": {"scale": {"y": "independent"}}
},
{"width": 260, "height": 150, "data": {"name": "NBR"},
 "encoding": {"x": {"field": "i", "type": "quantitative", "scale": {"domain": [-0.5, 64.5], "nice": false, "zero": false, "padding": 0}, "axis": {"values": [19, 40, 61], "labelExpr": "datum.value == 19 ? 'Apr' : datum.value == 40 ? 'May' : 'Jun'", "title": null, "grid": true}}},
 "layer": [
  {"mark": {"type": "bar", "orient": "vertical", "size": 3.6},
   "encoding": {"y": {"field": "v", "type": "quantitative", "scale": {"domain": [0, 76000000], "nice": false}, "axis": {"orient": "left", "values": [5000000, 10000000, 15000000], "labelExpr": "datum.value >= 1000000 ? format(datum.value / 1000000, 'd') + 'M' : format(datum.value / 1000, 'd') + 'K'", "grid": false, "title": "DAILY", "titleX": -13, "titleY": 60, "titleAngle": -90, "titleAlign": "center", "titleBaseline": "middle"}},
    "color": {"condition": {"test": "datum.c >= datum.o", "value": "#b4e2b4"}, "value": "#f8c3c3"}}},
  {"layer": [
   {"mark": {"type": "rule", "strokeWidth": 1},
    "encoding": {"y": {"field": "l", "type": "quantitative", "scale": {"domain": [21, 29], "nice": false, "zero": false}, "axis": {"orient": "right", "values": [21, 22, 23, 24, 25, 26, 27, 28, 29], "format": ".2f", "title": null, "grid": true}}, "y2": {"field": "h"},
     "color": {"condition": {"test": "datum.c >= datum.o", "value": "#17621b"}, "value": "#731313"}}},
   {"mark": {"type": "bar", "orient": "vertical", "size": 2.6, "strokeWidth": 0.8},
    "encoding": {"y": {"field": "o", "type": "quantitative", "axis": null}, "y2": {"field": "c"},
     "fill": {"condition": {"test": "datum.c >= datum.o", "value": "#35c435"}, "value": "#b41c1c"},
     "stroke": {"condition": {"test": "datum.c >= datum.o", "value": "#17621b"}, "value": "#731313"}}},
   {"transform": [{"filter": "datum.i == 64"}], "mark": {"type": "point", "shape": "M-1,-0.46H1V0.46H-1Z", "size": 576, "filled": true, "color": "#ffff2e", "opacity": 1},
    "encoding": {"x": {"datum": 68.5}, "y": {"field": "c", "type": "quantitative", "axis": null}}},
   {"transform": [{"filter": "datum.i == 64"}], "mark": {"type": "text", "fontSize": 8.5, "color": "#333333"},
    "encoding": {"x": {"datum": 68.5}, "y": {"field": "c", "type": "quantitative", "axis": null}, "text": {"field": "c", "type": "quantitative", "format": ".2f"}}},
   {"transform": [{"filter": "datum.i == 64"}], "mark": {"type": "text", "align": "left", "baseline": "alphabetic", "fontSize": 21, "fontWeight": "bold", "color": "#dedede", "dx": 1, "dy": 1}, "encoding": {"x": {"datum": -6.75}, "y": {"datum": 28.84, "type": "quantitative", "axis": null}, "text": {"value": "NBR"}}},
   {"transform": [{"filter": "datum.i == 64"}], "mark": {"type": "text", "align": "left", "baseline": "alphabetic", "fontSize": 21, "fontWeight": "bold", "color": "#7c7c7c"}, "encoding": {"x": {"datum": -6.75}, "y": {"datum": 28.84, "type": "quantitative", "axis": null}, "text": {"value": "NBR"}}},
   {"transform": [{"filter": "datum.i == 64"}], "mark": {"type": "text", "align": "left", "baseline": "middle", "fontSize": 8.5, "fontWeight": "bold", "color": "#666666"}, "encoding": {"x": {"datum": 12.25}, "y": {"datum": 29.507, "type": "quantitative", "axis": null}, "text": {"value": "05 Jun 14"}}},
   {"transform": [{"filter": "datum.i == 64"}], "mark": {"type": "text", "align": "right", "baseline": "middle", "fontSize": 9, "fontWeight": "bold", "color": "#3a9a3a"}, "encoding": {"x": {"datum": 51.5}, "y": {"datum": 29.507, "type": "quantitative", "axis": null}, "text": {"value": "+0.15 (0.56%)"}}},
   {"transform": [{"filter": "datum.i == 64"}], "mark": {"type": "text", "align": "right", "baseline": "middle", "fontSize": 10, "color": "#7fa6c8"}, "encoding": {"x": {"datum": 70.25}, "y": {"datum": 29.507, "type": "quantitative", "axis": null}, "text": {"value": "© finviz.com"}}}
  ]}
 ],
 "resolve": {"scale": {"y": "independent"}}
},
{"width": 260, "height": 150, "data": {"name": "PTEN"},
 "encoding": {"x": {"field": "i", "type": "quantitative", "scale": {"domain": [-0.5, 64.5], "nice": false, "zero": false, "padding": 0}, "axis": {"values": [19, 40, 61], "labelExpr": "datum.value == 19 ? 'Apr' : datum.value == 40 ? 'May' : 'Jun'", "title": null, "grid": true}}},
 "layer": [
  {"mark": {"type": "bar", "orient": "vertical", "size": 3.6},
   "encoding": {"y": {"field": "v", "type": "quantitative", "scale": {"domain": [0, 30000000], "nice": false}, "axis": {"orient": "left", "values": [2000000, 4000000, 6000000], "labelExpr": "datum.value >= 1000000 ? format(datum.value / 1000000, 'd') + 'M' : format(datum.value / 1000, 'd') + 'K'", "grid": false, "title": "DAILY", "titleX": -13, "titleY": 60, "titleAngle": -90, "titleAlign": "center", "titleBaseline": "middle"}},
    "color": {"condition": {"test": "datum.c >= datum.o", "value": "#b4e2b4"}, "value": "#f8c3c3"}}},
  {"layer": [
   {"mark": {"type": "rule", "strokeWidth": 1},
    "encoding": {"y": {"field": "l", "type": "quantitative", "scale": {"domain": [28, 35], "nice": false, "zero": false}, "axis": {"orient": "right", "values": [28, 29, 30, 31, 32, 33, 34, 35], "format": ".2f", "title": null, "grid": true}}, "y2": {"field": "h"},
     "color": {"condition": {"test": "datum.c >= datum.o", "value": "#17621b"}, "value": "#731313"}}},
   {"mark": {"type": "bar", "orient": "vertical", "size": 2.6, "strokeWidth": 0.8},
    "encoding": {"y": {"field": "o", "type": "quantitative", "axis": null}, "y2": {"field": "c"},
     "fill": {"condition": {"test": "datum.c >= datum.o", "value": "#35c435"}, "value": "#b41c1c"},
     "stroke": {"condition": {"test": "datum.c >= datum.o", "value": "#17621b"}, "value": "#731313"}}},
   {"transform": [{"filter": "datum.i == 64"}], "mark": {"type": "point", "shape": "M-1,-0.46H1V0.46H-1Z", "size": 576, "filled": true, "color": "#ffff2e", "opacity": 1},
    "encoding": {"x": {"datum": 68.5}, "y": {"field": "c", "type": "quantitative", "axis": null}}},
   {"transform": [{"filter": "datum.i == 64"}], "mark": {"type": "text", "fontSize": 8.5, "color": "#333333"},
    "encoding": {"x": {"datum": 68.5}, "y": {"field": "c", "type": "quantitative", "axis": null}, "text": {"field": "c", "type": "quantitative", "format": ".2f"}}},
   {"transform": [{"filter": "datum.i == 64"}], "mark": {"type": "text", "align": "left", "baseline": "alphabetic", "fontSize": 21, "fontWeight": "bold", "color": "#dedede", "dx": 1, "dy": 1}, "encoding": {"x": {"datum": -6.75}, "y": {"datum": 34.86, "type": "quantitative", "axis": null}, "text": {"value": "PTEN"}}},
   {"transform": [{"filter": "datum.i == 64"}], "mark": {"type": "text", "align": "left", "baseline": "alphabetic", "fontSize": 21, "fontWeight": "bold", "color": "#7c7c7c"}, "encoding": {"x": {"datum": -6.75}, "y": {"datum": 34.86, "type": "quantitative", "axis": null}, "text": {"value": "PTEN"}}},
   {"transform": [{"filter": "datum.i == 64"}], "mark": {"type": "text", "align": "left", "baseline": "middle", "fontSize": 8.5, "fontWeight": "bold", "color": "#666666"}, "encoding": {"x": {"datum": 12.25}, "y": {"datum": 35.443, "type": "quantitative", "axis": null}, "text": {"value": "05 Jun 14"}}},
   {"transform": [{"filter": "datum.i == 64"}], "mark": {"type": "text", "align": "right", "baseline": "middle", "fontSize": 9, "fontWeight": "bold", "color": "#3a9a3a"}, "encoding": {"x": {"datum": 51.5}, "y": {"datum": 35.443, "type": "quantitative", "axis": null}, "text": {"value": "+0.02 (0.06%)"}}},
   {"transform": [{"filter": "datum.i == 64"}], "mark": {"type": "text", "align": "right", "baseline": "middle", "fontSize": 10, "color": "#7fa6c8"}, "encoding": {"x": {"datum": 70.25}, "y": {"datum": 35.443, "type": "quantitative", "axis": null}, "text": {"value": "© finviz.com"}}}
  ]}
 ],
 "resolve": {"scale": {"y": "independent"}}
},
{"width": 260, "height": 150, "data": {"values": [{}]}, "mark": {"type": "point", "opacity": 0}, "encoding": {}, "view": {"stroke": null}},
{"width": 260, "height": 150, "data": {"name": "SYRG"},
 "encoding": {"x": {"field": "i", "type": "quantitative", "scale": {"domain": [-0.5, 64.5], "nice": false, "zero": false, "padding": 0}, "axis": {"values": [19, 40, 61], "labelExpr": "datum.value == 19 ? 'Apr' : datum.value == 40 ? 'May' : 'Jun'", "title": null, "grid": true}}},
 "layer": [
  {"mark": {"type": "bar", "orient": "vertical", "size": 3.6},
   "encoding": {"y": {"field": "v", "type": "quantitative", "scale": {"domain": [0, 15000000], "nice": false}, "axis": {"orient": "left", "values": [1000000, 2000000, 3000000], "labelExpr": "datum.value >= 1000000 ? format(datum.value / 1000000, 'd') + 'M' : format(datum.value / 1000, 'd') + 'K'", "grid": false, "title": "DAILY", "titleX": -13, "titleY": 60, "titleAngle": -90, "titleAlign": "center", "titleBaseline": "middle"}},
    "color": {"condition": {"test": "datum.c >= datum.o", "value": "#b4e2b4"}, "value": "#f8c3c3"}}},
  {"layer": [
   {"mark": {"type": "rule", "strokeWidth": 1},
    "encoding": {"y": {"field": "l", "type": "quantitative", "scale": {"domain": [9.5, 13], "nice": false, "zero": false}, "axis": {"orient": "right", "values": [9.5, 10, 10.5, 11, 11.5, 12, 12.5, 13], "format": ".2f", "title": null, "grid": true}}, "y2": {"field": "h"},
     "color": {"condition": {"test": "datum.c >= datum.o", "value": "#17621b"}, "value": "#731313"}}},
   {"mark": {"type": "bar", "orient": "vertical", "size": 2.6, "strokeWidth": 0.8},
    "encoding": {"y": {"field": "o", "type": "quantitative", "axis": null}, "y2": {"field": "c"},
     "fill": {"condition": {"test": "datum.c >= datum.o", "value": "#35c435"}, "value": "#b41c1c"},
     "stroke": {"condition": {"test": "datum.c >= datum.o", "value": "#17621b"}, "value": "#731313"}}},
   {"transform": [{"filter": "datum.i == 64"}], "mark": {"type": "point", "shape": "M-1,-0.46H1V0.46H-1Z", "size": 576, "filled": true, "color": "#ffff2e", "opacity": 1},
    "encoding": {"x": {"datum": 68.5}, "y": {"field": "c", "type": "quantitative", "axis": null}}},
   {"transform": [{"filter": "datum.i == 64"}], "mark": {"type": "text", "fontSize": 8.5, "color": "#333333"},
    "encoding": {"x": {"datum": 68.5}, "y": {"field": "c", "type": "quantitative", "axis": null}, "text": {"field": "c", "type": "quantitative", "format": ".2f"}}},
   {"transform": [{"filter": "datum.i == 64"}], "mark": {"type": "text", "align": "left", "baseline": "alphabetic", "fontSize": 21, "fontWeight": "bold", "color": "#dedede", "dx": 1, "dy": 1}, "encoding": {"x": {"datum": -6.75}, "y": {"datum": 12.93, "type": "quantitative", "axis": null}, "text": {"value": "SYRG"}}},
   {"transform": [{"filter": "datum.i == 64"}], "mark": {"type": "text", "align": "left", "baseline": "alphabetic", "fontSize": 21, "fontWeight": "bold", "color": "#7c7c7c"}, "encoding": {"x": {"datum": -6.75}, "y": {"datum": 12.93, "type": "quantitative", "axis": null}, "text": {"value": "SYRG"}}},
   {"transform": [{"filter": "datum.i == 64"}], "mark": {"type": "text", "align": "left", "baseline": "middle", "fontSize": 8.5, "fontWeight": "bold", "color": "#666666"}, "encoding": {"x": {"datum": 12.25}, "y": {"datum": 13.222, "type": "quantitative", "axis": null}, "text": {"value": "05 Jun 14"}}},
   {"transform": [{"filter": "datum.i == 64"}], "mark": {"type": "text", "align": "right", "baseline": "middle", "fontSize": 9, "fontWeight": "bold", "color": "#c62828"}, "encoding": {"x": {"datum": 51.5}, "y": {"datum": 13.222, "type": "quantitative", "axis": null}, "text": {"value": "-0.07 (0.62%)"}}},
   {"transform": [{"filter": "datum.i == 64"}], "mark": {"type": "text", "align": "right", "baseline": "middle", "fontSize": 10, "color": "#7fa6c8"}, "encoding": {"x": {"datum": 70.25}, "y": {"datum": 13.222, "type": "quantitative", "axis": null}, "text": {"value": "© finviz.com"}}}
  ]}
 ],
 "resolve": {"scale": {"y": "independent"}}
},
{"width": 260, "height": 150, "data": {"name": "VNR"},
 "encoding": {"x": {"field": "i", "type": "quantitative", "scale": {"domain": [-0.5, 64.5], "nice": false, "zero": false, "padding": 0}, "axis": {"values": [19, 40, 61], "labelExpr": "datum.value == 19 ? 'Apr' : datum.value == 40 ? 'May' : 'Jun'", "title": null, "grid": true}}},
 "layer": [
  {"mark": {"type": "bar", "orient": "vertical", "size": 3.6},
   "encoding": {"y": {"field": "v", "type": "quantitative", "scale": {"domain": [0, 5170000], "nice": false}, "axis": {"orient": "left", "values": [500000, 1000000], "labelExpr": "datum.value >= 1000000 ? format(datum.value / 1000000, 'd') + 'M' : format(datum.value / 1000, 'd') + 'K'", "grid": false, "title": "DAILY", "titleX": -13, "titleY": 60, "titleAngle": -90, "titleAlign": "center", "titleBaseline": "middle"}},
    "color": {"condition": {"test": "datum.c >= datum.o", "value": "#b4e2b4"}, "value": "#f8c3c3"}}},
  {"layer": [
   {"mark": {"type": "rule", "strokeWidth": 1},
    "encoding": {"y": {"field": "l", "type": "quantitative", "scale": {"domain": [28.5, 31.5], "nice": false, "zero": false}, "axis": {"orient": "right", "values": [28.5, 29, 29.5, 30, 30.5, 31, 31.5], "format": ".2f", "title": null, "grid": true}}, "y2": {"field": "h"},
     "color": {"condition": {"test": "datum.c >= datum.o", "value": "#17621b"}, "value": "#731313"}}},
   {"mark": {"type": "bar", "orient": "vertical", "size": 2.6, "strokeWidth": 0.8},
    "encoding": {"y": {"field": "o", "type": "quantitative", "axis": null}, "y2": {"field": "c"},
     "fill": {"condition": {"test": "datum.c >= datum.o", "value": "#35c435"}, "value": "#b41c1c"},
     "stroke": {"condition": {"test": "datum.c >= datum.o", "value": "#17621b"}, "value": "#731313"}}},
   {"transform": [{"filter": "datum.i == 64"}], "mark": {"type": "point", "shape": "M-1,-0.46H1V0.46H-1Z", "size": 576, "filled": true, "color": "#ffff2e", "opacity": 1},
    "encoding": {"x": {"datum": 68.5}, "y": {"field": "c", "type": "quantitative", "axis": null}}},
   {"transform": [{"filter": "datum.i == 64"}], "mark": {"type": "text", "fontSize": 8.5, "color": "#333333"},
    "encoding": {"x": {"datum": 68.5}, "y": {"field": "c", "type": "quantitative", "axis": null}, "text": {"field": "c", "type": "quantitative", "format": ".2f"}}},
   {"transform": [{"filter": "datum.i == 64"}], "mark": {"type": "text", "align": "left", "baseline": "alphabetic", "fontSize": 21, "fontWeight": "bold", "color": "#dedede", "dx": 1, "dy": 1}, "encoding": {"x": {"datum": -6.75}, "y": {"datum": 31.44, "type": "quantitative", "axis": null}, "text": {"value": "VNR"}}},
   {"transform": [{"filter": "datum.i == 64"}], "mark": {"type": "text", "align": "left", "baseline": "alphabetic", "fontSize": 21, "fontWeight": "bold", "color": "#7c7c7c"}, "encoding": {"x": {"datum": -6.75}, "y": {"datum": 31.44, "type": "quantitative", "axis": null}, "text": {"value": "VNR"}}},
   {"transform": [{"filter": "datum.i == 64"}], "mark": {"type": "text", "align": "left", "baseline": "middle", "fontSize": 8.5, "fontWeight": "bold", "color": "#666666"}, "encoding": {"x": {"datum": 12.25}, "y": {"datum": 31.69, "type": "quantitative", "axis": null}, "text": {"value": "05 Jun 14"}}},
   {"transform": [{"filter": "datum.i == 64"}], "mark": {"type": "text", "align": "right", "baseline": "middle", "fontSize": 9, "fontWeight": "bold", "color": "#c62828"}, "encoding": {"x": {"datum": 51.5}, "y": {"datum": 31.69, "type": "quantitative", "axis": null}, "text": {"value": "-0.06 (0.18%)"}}},
   {"transform": [{"filter": "datum.i == 64"}], "mark": {"type": "text", "align": "right", "baseline": "middle", "fontSize": 10, "color": "#7fa6c8"}, "encoding": {"x": {"datum": 70.25}, "y": {"datum": 31.69, "type": "quantitative", "axis": null}, "text": {"value": "© finviz.com"}}}
  ]}
 ],
 "resolve": {"scale": {"y": "independent"}}
}
]
}
